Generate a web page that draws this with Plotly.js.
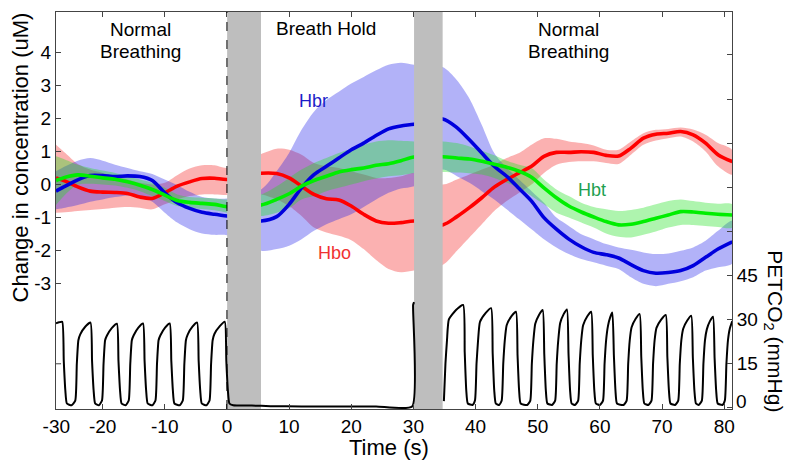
<!DOCTYPE html>
<html>
<head>
<meta charset="utf-8">
<script src="https://cdn.plot.ly/plotly-3.0.1.min.js"></script>
<style>html,body{margin:0;padding:0;background:#fff;}#chart{width:795px;height:465px;}</style>
</head>
<body>
<div id="chart"></div>
<script>
// ---------- Data ----------
// Common time grid (s) for the haemoglobin curves
const hemoTime = [-27.5,-26,-24,-22,-20,-18,-16,-14,-12,-10,-8,-6,-4,-2,0,
  5.5,8,10,12,14,16,18,20,22,24,26,28,30.1,
  34.7,37,39,41,43,45,47,49,51,53,55,57,59,61,63,65,67,69,71,73,75,77,79,81.3];

// Hbo (red)
const hboMean  = [0.2,0.1,-0.07,-0.2,-0.23,-0.24,-0.27,-0.38,-0.42,-0.25,-0.05,0.08,0.18,0.19,0.15,
  0.34,0.33,0.2,-0.05,-0.3,-0.43,-0.47,-0.65,-0.9,-1.1,-1.17,-1.15,-1.1,
  -1.22,-0.97,-0.7,-0.4,-0.08,0.15,0.35,0.55,0.85,0.97,0.97,0.99,0.97,0.88,0.86,1.1,1.4,1.52,1.55,1.6,1.5,1.25,0.9,0.69];
const hboUpper = [1.2,0.95,0.62,0.45,0.35,0.25,0.15,0.05,0.0,0.05,0.28,0.48,0.58,0.58,0.5,
  0.92,1.08,1.05,0.9,0.65,0.55,0.5,0.4,0.3,0.2,0.2,0.25,0.35,
  0.0,0.15,0.3,0.45,0.6,0.8,0.95,1.2,1.4,1.38,1.3,1.25,1.18,1.05,1.05,1.3,1.55,1.65,1.68,1.72,1.66,1.5,1.25,1.04];
const hboLower = [-0.85,-0.84,-0.8,-0.77,-0.74,-0.7,-0.68,-0.7,-0.75,-0.6,-0.45,-0.35,-0.3,-0.3,-0.32,
  -0.3,-0.45,-0.65,-0.95,-1.3,-1.45,-1.55,-1.68,-1.95,-2.28,-2.55,-2.65,-2.6,
  -2.43,-2.0,-1.6,-1.2,-0.8,-0.5,-0.25,0.0,0.35,0.6,0.68,0.7,0.7,0.65,0.62,0.9,1.2,1.33,1.4,1.45,1.3,1.0,0.55,0.3];

// Hbr (blue)
const hbrMean  = [-0.2,-0.05,0.14,0.27,0.27,0.24,0.26,0.24,0.12,-0.25,-0.55,-0.72,-0.84,-0.9,-0.95,
  -1.1,-0.97,-0.6,-0.1,0.3,0.55,0.8,1.05,1.25,1.48,1.68,1.77,1.82,
  1.98,1.72,1.35,0.95,0.55,0.25,-0.12,-0.5,-1.0,-1.35,-1.65,-1.88,-2.05,-2.12,-2.22,-2.42,-2.6,-2.68,-2.66,-2.6,-2.45,-2.2,-1.95,-1.73];
const hbrUpper = [0.4,0.55,0.72,0.8,0.72,0.6,0.5,0.4,0.32,0.15,-0.02,-0.22,-0.38,-0.42,-0.42,
  -0.15,0.4,0.95,1.65,2.2,2.55,2.8,3.05,3.25,3.45,3.62,3.68,3.62,
  3.55,3.15,2.6,1.8,0.95,0.5,0.15,-0.2,-0.55,-1.0,-1.25,-1.5,-1.65,-1.8,-1.9,-1.97,-2.05,-2.1,-2.08,-2.0,-1.9,-1.7,-1.4,-1.1];
const hbrLower = [-0.75,-0.7,-0.62,-0.52,-0.45,-0.38,-0.33,-0.36,-0.52,-0.85,-1.15,-1.35,-1.48,-1.52,-1.53,
  -2.0,-1.95,-1.85,-1.65,-1.4,-1.2,-1.05,-0.9,-0.68,-0.45,-0.25,-0.12,-0.05,
  0.45,0.25,0.05,-0.2,-0.45,-0.75,-1.05,-1.35,-1.65,-1.9,-2.1,-2.25,-2.35,-2.45,-2.55,-2.8,-3.0,-3.07,-3.0,-2.92,-2.8,-2.6,-2.5,-2.38];

// Hbt (green)
const hbtMean  = [0.12,0.22,0.29,0.25,0.2,0.16,0.08,-0.02,-0.15,-0.32,-0.48,-0.54,-0.57,-0.6,-0.67,
  -0.62,-0.45,-0.28,-0.05,0.12,0.25,0.38,0.45,0.5,0.58,0.63,0.72,0.83,
  0.84,0.8,0.77,0.7,0.61,0.52,0.4,0.22,-0.1,-0.4,-0.65,-0.83,-0.98,-1.12,-1.22,-1.2,-1.12,-1.02,-0.92,-0.82,-0.83,-0.87,-0.9,-0.92];
const hbtUpper = [0.85,0.75,0.6,0.5,0.42,0.35,0.25,0.15,0.05,-0.1,-0.3,-0.38,-0.4,-0.42,-0.45,
  -0.3,-0.05,0.2,0.45,0.65,0.8,0.95,1.08,1.2,1.3,1.34,1.32,1.3,
  1.3,1.25,1.15,1.02,0.88,0.72,0.6,0.5,0.15,-0.15,-0.35,-0.55,-0.68,-0.75,-0.8,-0.77,-0.7,-0.6,-0.5,-0.45,-0.5,-0.55,-0.58,-0.6];
const hbtLower = [-0.62,-0.3,0.0,0.02,0.0,-0.03,-0.1,-0.2,-0.35,-0.5,-0.65,-0.7,-0.74,-0.78,-0.85,
  -0.95,-0.85,-0.72,-0.45,-0.35,-0.2,-0.1,0.0,0.1,0.18,0.25,0.28,0.35,
  0.38,0.36,0.34,0.3,0.2,0.05,-0.1,-0.35,-0.6,-0.85,-1.0,-1.15,-1.3,-1.48,-1.58,-1.6,-1.52,-1.42,-1.3,-1.22,-1.22,-1.25,-1.28,-1.3];

// PETCO2 trace (mmHg), gap (null) where the recording is missing
const petTime = [-27.5,-27.0,-26.5,-26.25,-26.0,-25.75,-25.0,
  -24.4,-24.15,-23.9,-23.6,-22.8,-21.95,-21.7,-21.45,-21.2,-20.6,
  -20.1,-19.85,-19.6,-19.3,-18.5,-17.7,-17.45,-17.2,-16.95,-16.3,
  -15.8,-15.55,-15.3,-15.0,-14.25,-13.5,-13.25,-13.0,-12.75,-12.0,
  -11.5,-11.25,-11.0,-10.7,-9.95,-9.2,-8.95,-8.7,-8.45,-7.6,
  -7.1,-6.85,-6.6,-6.3,-5.55,-4.8,-4.55,-4.3,-4.05,-3.3,
  -2.8,-2.55,-2.3,-2.0,-1.15,-0.35,-0.1,0.15,0.4,
  1.0,4.0,7.0,12.0,18.0,24.0,29.8,29.95,30.1,
  32.0,
  34.9,35.15,35.4,35.7,36.85,38.0,38.25,38.5,38.75,39.5,
  39.9,40.15,40.4,40.7,41.6,42.5,42.75,43.0,43.25,43.8,
  44.2,44.45,44.7,45.0,45.75,46.5,46.75,47.0,47.25,48.3,
  48.8,49.05,49.3,49.6,50.2,50.8,51.05,51.3,51.55,52.3,
  52.8,53.05,53.3,53.6,54.15,54.7,54.95,55.2,55.45,56.0,
  56.5,56.75,57.0,57.3,57.95,58.6,58.85,59.1,59.35,60.0,
  60.5,60.75,61.0,61.3,61.65,62.0,62.25,62.5,62.75,63.8,
  64.3,64.55,64.8,65.1,65.75,66.4,66.65,66.9,67.15,67.8,
  68.3,68.55,68.8,69.1,69.85,70.6,70.85,71.1,71.35,72.1,
  72.6,72.85,73.1,73.4,74.05,74.7,74.95,75.2,75.45,75.9,
  76.4,76.65,76.9,77.2,77.7,78.2,78.45,78.7,78.95,79.7,
  80.1,80.35,80.6,80.9,81.3];
const petValue = [28.8,29.1,29.3,16,6,1.5,0.9,
  2.5,15,23,25.0,27.6,29.0,16,6,1.5,0.9,
  2.5,15,23,24.6,27.2,28.6,16,6,1.5,0.9,
  2.5,15,23,24.7,27.3,28.7,16,6,1.5,0.9,
  2.5,15,23,24.7,27.3,28.7,16,6,1.5,0.9,
  2.5,15,23,25.0,27.6,29.0,16,6,1.5,0.9,
  2.5,15,23,25.2,27.8,29.3,16,6,1.5,
  0.9,0.8,0.6,0.5,0.5,0.5,0.5,35,36,
  null,
  2.3,15,23,30.1,33.3,35.0,19,6,1.5,1.0,
  2.5,15,23,29.2,32.2,33.9,18.6,6,1.5,1.0,
  2.5,15,23,28.1,31.1,32.7,18,6,1.5,1.0,
  2.5,15,23,28.6,31.6,33.3,18.3,6,1.5,1.0,
  2.5,15,23,28.8,31.8,33.5,18.4,6,1.5,1.0,
  2.5,15,23,28.1,31.1,32.7,18,6,1.5,1.0,
  2.5,15,23,27.9,30.8,32.4,17.8,6,1.5,1.0,
  2.5,15,23,27.4,30.3,31.9,17.5,6,1.5,1.0,
  2.5,15,23,27.2,30.0,31.6,17.4,6,1.5,1.0,
  2.5,15,23,26.9,29.7,31.3,17.2,6,1.5,1.0,
  2.5,15,23,26.7,29.5,31.0,17,6,1.5,1.0,
  2.5,15,23,27.0,29.5];

// Shaded (transition) periods, s
const grayStart = [0.03, 30.1];
const grayEnd   = [5.48, 34.7];

// Tick labels
const xTickVals = [-27.45,-20,-10,0,10,20,30,40,50,60,70,80];
const xTickText = ['-30','-20','-10','0','10','20','30','40','50','60','70','80'];
const yTickVals = [-3,-2,-1,0,1,2,3,4];
const yTickText = ['-3','-2','-1','0','1','2','3','4'];
const y2TickVals = [0,15,30,45,60,75,90,105,120];
const y2TickText = ['','15','30','45','','','','',''];

// ---------- Build traces ----------
function band(upper, lower, color) {
  return {
    x: hemoTime.concat(hemoTime.slice().reverse()),
    y: upper.concat(lower.slice().reverse()),
    type: 'scatter', mode: 'lines', fill: 'toself', fillcolor: color,
    line: {width: 0, shape: 'spline', smoothing: 0.8}, hoverinfo: 'skip', xaxis: 'x', yaxis: 'y'
  };
}
function meanLine(y, color) {
  return {x: hemoTime, y: y, type: 'scatter', mode: 'lines',
    line: {color: color, width: 3.6, shape: 'spline', smoothing: 0.8}, hoverinfo: 'skip', xaxis: 'x', yaxis: 'y'};
}
const traces = [
  band(hboUpper, hboLower, 'rgba(245,40,40,0.36)'),
  band(hbrUpper, hbrLower, 'rgba(30,30,235,0.34)'),
  band(hbtUpper, hbtLower, 'rgba(30,225,30,0.36)'),
  meanLine(hboMean, '#ff0000'),
  meanLine(hbrMean, '#0000dd'),
  meanLine(hbtMean, '#00ee00')
];
for (let i = 0; i < grayStart.length; i++) {
  traces.push({
    x: [grayStart[i], grayEnd[i], grayEnd[i], grayStart[i], grayStart[i]],
    y: [-20, -20, 20, 20, -20],
    type: 'scatter', mode: 'lines', fill: 'toself', fillcolor: '#bebebe',
    line: {width: 0}, hoverinfo: 'skip', xaxis: 'x', yaxis: 'y'
  });
}
traces.push({
  x: petTime, y: petValue, type: 'scatter', mode: 'lines', connectgaps: false,
  line: {color: '#000', width: 2, shape: 'spline', smoothing: 0.5},
  hoverinfo: 'skip', xaxis: 'x', yaxis: 'y2'
});

const axisCol = '#444';
function ann(text, x, y, xref, yref, extra) {
  return Object.assign({text: text, x: x, y: y, xref: xref, yref: yref, showarrow: false,
    xanchor: 'center', yanchor: 'middle', font: {size: 19}}, extra || {});
}
const layout = {
  width: 795, height: 465,
  margin: {l: 56, r: 63, t: 12, b: 56, pad: 0},
  paper_bgcolor: '#fff', plot_bgcolor: '#fff',
  showlegend: false,
  font: {family: 'Liberation Sans, Arial, sans-serif', size: 19, color: '#000'},
  xaxis: {range: [-27.5, 81.25], tickvals: xTickVals, ticktext: xTickText,
    ticks: 'inside', ticklen: 5, tickcolor: axisCol, showline: true, linecolor: axisCol, linewidth: 1,
    mirror: 'ticks', showgrid: false, zeroline: false, tickfont: {size: 19}},
  yaxis: {range: [-6.78, 5.21], tickvals: yTickVals, ticktext: yTickText,
    ticks: 'inside', ticklen: 5, tickcolor: axisCol, showline: true, linecolor: axisCol, linewidth: 1,
    showgrid: false, zeroline: false, tickfont: {size: 19}},
  yaxis2: {overlaying: 'y', side: 'right', range: [-0.37, 134.6], tickvals: y2TickVals, ticktext: y2TickText,
    ticks: 'inside', ticklen: 5, tickcolor: axisCol, showline: true, linecolor: axisCol, linewidth: 1,
    showgrid: false, zeroline: false, tickfont: {size: 19}},
  shapes: [
    {type: 'line', xref: 'x', yref: 'paper', x0: 0, x1: 0, y0: 0, y1: 1,
      line: {color: '#000', width: 1, dash: 'dash'}, layer: 'above'},
    {type: 'line', xref: 'paper', yref: 'y2', x0: 0, x1: 0.0075, y0: 15, y1: 15,
      line: {color: axisCol, width: 1}, layer: 'above'}
  ],
  annotations: [
    ann('Normal', -13.9, 0.955, 'x', 'paper'),
    ann('Breathing', -13.9, 0.900, 'x', 'paper'),
    ann('Breath Hold', 15.9, 0.958, 'x', 'paper'),
    ann('Normal', 54.9, 0.955, 'x', 'paper'),
    ann('Breathing', 54.9, 0.900, 'x', 'paper'),
    ann('Hbr', 13.9, 2.52, 'x', 'y', {font: {size: 18, color: '#1c1cc8'}}),
    ann('Hbo', 17.3, -2.07, 'x', 'y', {font: {size: 18, color: '#f03232'}}),
    ann('Hbt', 58.7, -0.17, 'x', 'y', {font: {size: 18, color: '#1fa050'}}),
    ann('Change in concentration (uM)', -0.053, 0.634, 'paper', 'paper', {textangle: -90, font: {size: 22}}),
    ann('PETCO<sub>2</sub> (mmHg)', 1.063, 0.197, 'paper', 'paper', {textangle: 90, font: {size: 21}}),
    ann('Time (s)', 0.492, -0.098, 'paper', 'paper', {font: {size: 22}}),
    ann('0', 1, 0.0184, 'paper', 'paper', {xanchor: 'left', xshift: 2})
  ]
};

Plotly.newPlot('chart', traces, layout, {staticPlot: true, displayModeBar: false});
</script>
</body>
</html>
